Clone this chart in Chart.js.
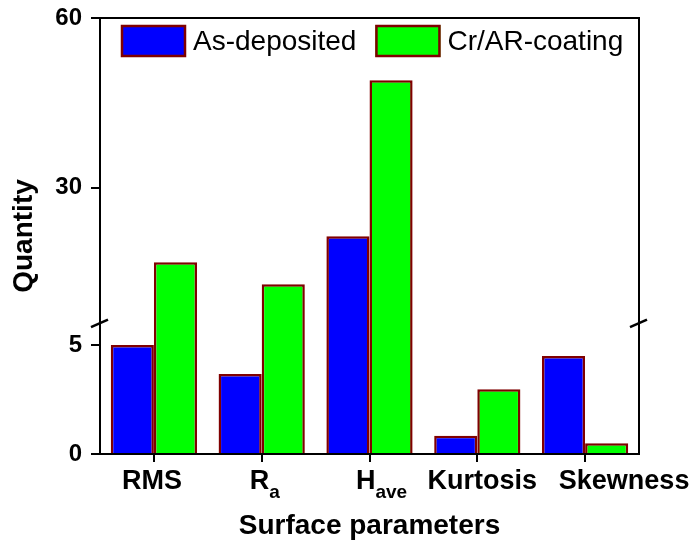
<!DOCTYPE html>
<html>
<head>
<meta charset="utf-8">
<script src="https://cdn.jsdelivr.net/npm/chart.js@4.4.1/dist/chart.umd.min.js"></script>
<style>
  body { margin: 0; background: #fff; }
</style>
</head>
<body>
<canvas id="chart" width="697" height="550"></canvas>
<script>
const categories = ["RMS", "Ra", "Have", "Kurtosis", "Skewness"];
const labelParts = [["RMS", ""], ["R", "a"], ["H", "ave"], ["Kurtosis", ""], ["Skewness", ""]];
const asDeposited = [5.0, 3.67, 21.4, 0.84, 4.5];
const crArCoating = [16.8, 12.9, 49.0, 2.97, 0.49];
const yTicks = [0, 5, 30, 60];

// broken y axis: 0..6 uses the lower 30% of the axis, 6..60 the rest
const breakValue = 6;
const breakFraction = 0.3;
const yMax = 60;

const FONT = "Arial, 'Liberation Sans', sans-serif";

class BrokenLinearScale extends Chart.LinearScale {
    static id = "brokenLinear";
    static defaults = Chart.LinearScale.defaults;

    buildTicks() {
        return yTicks.map(v => ({ value: v }));
    }

    getPixelForValue(value) {
        let f;
        if (value <= breakValue) {
            f = (value / breakValue) * breakFraction;
        } else {
            f = breakFraction + (value - breakValue) / (yMax - breakValue) * (1 - breakFraction);
        }
        return this.getPixelForDecimal(f);
    }

    getValueForPixel(pixel) {
        const f = this.getDecimalForPixel(pixel);
        if (f <= breakFraction) return f / breakFraction * breakValue;
        return breakValue + (f - breakFraction) / (1 - breakFraction) * (yMax - breakValue);
    }
}
Chart.register(BrokenLinearScale);

// frame on top/right plus the break marks on both vertical axes
const framePlugin = {
    id: "frame",
    afterDraw(chart) {
        const { ctx, chartArea } = chart;
        const y = chart.scales.y.getPixelForValue(breakValue);
        ctx.save();
        ctx.strokeStyle = "#000";
        ctx.lineWidth = 2;
        ctx.beginPath();
        ctx.moveTo(chartArea.left - 1, chartArea.top);
        ctx.lineTo(chartArea.right, chartArea.top);
        ctx.lineTo(chartArea.right, chartArea.bottom);
        ctx.stroke();

        ctx.lineWidth = 2.5;
        [chartArea.left, chartArea.right].forEach(x => {
            ctx.beginPath();
            ctx.moveTo(x - 9, y + 4);
            ctx.lineTo(x + 8, y - 3.5);
            ctx.stroke();
        });
        ctx.restore();
    }
};

// one-row legend inside the top of the plot
const legendPlugin = {
    id: "insideLegend",
    afterDraw(chart) {
        const { ctx, chartArea } = chart;
        let x = chartArea.left + 21;
        const y = chartArea.top + 7;
        ctx.save();
        ctx.font = "28px " + FONT;
        ctx.textBaseline = "middle";
        ctx.textAlign = "left";
        chart.data.datasets.forEach(ds => {
            ctx.fillStyle = ds.backgroundColor;
            ctx.fillRect(x, y, 65, 32);
            ctx.strokeStyle = ds.borderColor;
            ctx.lineWidth = 2.5;
            ctx.strokeRect(x + 1, y + 1, 63, 30);
            ctx.fillStyle = "#000";
            ctx.fillText(ds.label, x + 72, y + 17);
            x += 72 + ctx.measureText(ds.label).width + 19;
        });
        ctx.restore();
    }
};

// category labels with subscripts
const labelShift = [-2, 3, 12, 5, 39];
const categoryLabelPlugin = {
    id: "categoryLabels",
    afterDraw(chart) {
        const { ctx } = chart;
        const xScale = chart.scales.x;
        const baseY = xScale.top + 35;
        ctx.save();
        ctx.fillStyle = "#000";
        ctx.textBaseline = "alphabetic";
        ctx.textAlign = "left";
        labelParts.forEach(([main, sub], i) => {
            ctx.font = "bold 27px " + FONT;
            const mw = ctx.measureText(main).width;
            ctx.font = "bold 19px " + FONT;
            const sw = sub ? ctx.measureText(sub).width : 0;
            const x0 = xScale.getPixelForValue(i) + labelShift[i] - (mw + sw) / 2;
            ctx.font = "bold 27px " + FONT;
            ctx.fillText(main, x0, baseY);
            if (sub) {
                ctx.font = "bold 19px " + FONT;
                ctx.fillText(sub, x0 + mw, baseY + 9);
            }
        });
        ctx.restore();
    }
};

const ctx = document.getElementById("chart").getContext("2d");

new Chart(ctx, {
    type: "bar",
    data: {
        labels: categories,
        datasets: [
            {
                label: "As-deposited",
                data: asDeposited,
                backgroundColor: "#0000ff",
                borderColor: "#800000",
                borderWidth: 2.5
            },
            {
                label: "Cr/AR-coating",
                data: crArCoating,
                backgroundColor: "#00ff00",
                borderColor: "#800000",
                borderWidth: 2.5
            }
        ]
    },
    options: {
        responsive: false,
        animation: false,
        devicePixelRatio: 1,
        layout: { padding: { top: 18, right: 58, left: 0, bottom: 0 } },
        datasets: {
            bar: { barPercentage: 1, categoryPercentage: 0.8 }
        },
        plugins: {
            legend: { display: false },
            tooltip: { enabled: false }
        },
        scales: {
            x: {
                offset: true,
                grid: {
                    offset: false,
                    drawOnChartArea: false,
                    color: "#000",
                    lineWidth: 2,
                    tickLength: 8
                },
                border: { color: "#000", width: 2 },
                ticks: { display: false },
                title: {
                    display: true,
                    text: "Surface parameters",
                    color: "#000",
                    font: { family: FONT, size: 28, weight: "bold" },
                    padding: { top: 0, bottom: 7 }
                },
                afterFit(scale) {
                    scale.height = 96;
                    scale.paddingLeft = 0;
                    scale.paddingRight = 0;
                }
            },
            y: {
                type: "brokenLinear",
                min: 0,
                max: yMax,
                grid: {
                    drawOnChartArea: false,
                    color: "#000",
                    lineWidth: 2,
                    tickLength: 9
                },
                border: { color: "#000", width: 2 },
                ticks: {
                    color: "#000",
                    padding: 9,
                    font: { family: FONT, size: 24, weight: "bold" },
                    callback: v => String(v)
                },
                title: {
                    display: true,
                    text: "Quantity",
                    color: "#000",
                    font: { family: FONT, size: 28, weight: "bold" },
                    padding: { top: 7, bottom: 0 }
                },
                afterFit(scale) {
                    scale.width = 100;
                    scale.paddingTop = 0;
                    scale.paddingBottom = 0;
                }
            }
        }
    },
    plugins: [framePlugin, legendPlugin, categoryLabelPlugin]
});
</script>
</body>
</html>
